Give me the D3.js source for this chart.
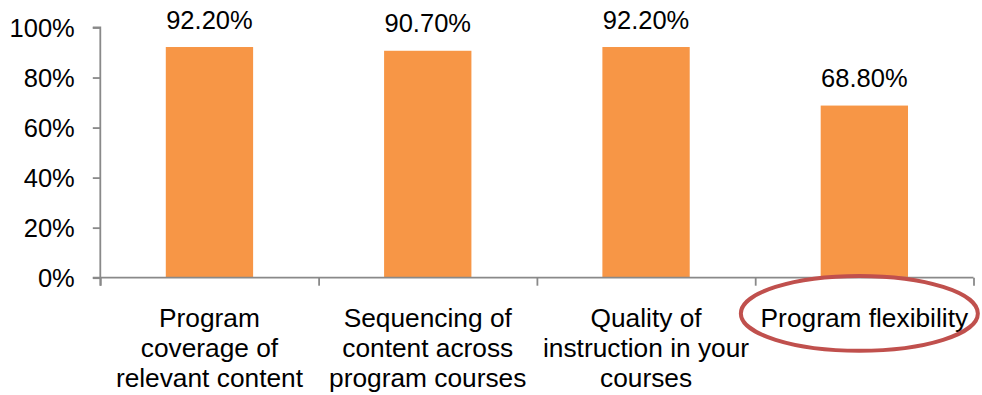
<!DOCTYPE html>
<html>
<head>
<meta charset="utf-8">
<script src="https://cdn.jsdelivr.net/npm/d3@7/dist/d3.min.js"></script>
<style>
  html, body { margin: 0; padding: 0; background: #fff; }
  svg { display: block; font-family: "Liberation Sans", Arial, sans-serif; }
</style>
</head>
<body>
<svg id="chart" width="982" height="395"></svg>
<script>
// Survey results: share of respondents rating each program aspect favourably
const categories = [
  ["Program", "coverage of", "relevant content"],
  ["Sequencing of", "content across", "program courses"],
  ["Quality of", "instruction in your", "courses"],
  ["Program flexibility"]
];
const values = [0.922, 0.907, 0.922, 0.688];
const valueLabels = ["92.20%", "90.70%", "92.20%", "68.80%"];
const yTicks = [0, 0.2, 0.4, 0.6, 0.8, 1.0];
const highlighted = 3; // category circled for emphasis

const svg = d3.select("#chart");
const plot = { left: 100.3, right: 973.5, top: 27.5, bottom: 277.7 };
const fontSize = 25.5;
const catFontSize = 26.3;
const axisColor = "#898989";

const idx = d3.range(categories.length);
const x = d3.scaleBand().domain(idx).range([plot.left, plot.right]).padding(0);
const xEdge = d3.scaleLinear().domain([0, categories.length]).range([plot.left, plot.right]);
const y = d3.scaleLinear().domain([0, 1]).range([plot.bottom, plot.top]);
const barW = x.bandwidth() * 0.4;

// Bars
svg.append("g").selectAll("rect").data(values).join("rect")
  .attr("x", (d, i) => x(i) + (x.bandwidth() - barW) / 2)
  .attr("y", d => y(d))
  .attr("width", barW)
  .attr("height", d => y(0) - y(d))
  .attr("fill", "#F79646");

// Value labels above bars
svg.append("g").selectAll("text").data(values).join("text")
  .attr("x", (d, i) => x(i) + x.bandwidth() / 2)
  .attr("y", d => y(d) - 18.3)
  .attr("text-anchor", "middle")
  .attr("font-size", fontSize)
  .attr("fill", "#000")
  .text((d, i) => valueLabels[i]);

// Y axis
const yAxis = svg.append("g")
  .attr("transform", `translate(${plot.left},0)`)
  .call(d3.axisLeft(y).tickValues(yTicks).tickFormat(d3.format(".0%")).tickSize(7.5).tickPadding(18));
yAxis.select(".domain").attr("stroke", axisColor).attr("stroke-width", 1.8)
  .attr("d", `M-7.5,${y(1)}H0V${y(0) + 8}`);
yAxis.selectAll(".tick line").attr("stroke", axisColor).attr("stroke-width", 1.8);
yAxis.selectAll(".tick text").attr("font-size", fontSize).attr("fill", "#000")
  .attr("font-family", "Liberation Sans, Arial, sans-serif").attr("dy", "0.36em");

// X axis with ticks at category boundaries
const xAxis = svg.append("g")
  .attr("transform", `translate(0,${plot.bottom})`)
  .call(d3.axisBottom(xEdge).tickValues(d3.range(categories.length + 1)).tickFormat("").tickSize(8));
xAxis.select(".domain").attr("stroke", axisColor).attr("stroke-width", 1.8)
  .attr("d", `M${plot.left - 7.5},0H${plot.right}`);
xAxis.selectAll(".tick line").attr("stroke", axisColor).attr("stroke-width", 1.8);

// Category labels (multi-line, centred under each band)
const lineH = 30.2;
const firstBaseline = 327;
const catG = svg.append("g").selectAll("text").data(categories).join("text")
  .attr("text-anchor", "middle")
  .attr("font-size", catFontSize)
  .attr("fill", "#000");
catG.selectAll("tspan").data((d, i) => d.map(line => ({ line, i }))).join("tspan")
  .attr("x", d => x(d.i) + x.bandwidth() / 2)
  .attr("y", (d, j) => firstBaseline + j * lineH)
  .text(d => d.line);

// Emphasis ring around the highlighted category label
const cx = x(highlighted) + x.bandwidth() / 2 - 5;
svg.append("ellipse")
  .attr("cx", cx)
  .attr("cy", 313.4)
  .attr("rx", 118.5)
  .attr("ry", 37.4)
  .attr("fill", "none")
  .attr("stroke", "#C0504D")
  .attr("stroke-width", 4);
</script>
</body>
</html>
